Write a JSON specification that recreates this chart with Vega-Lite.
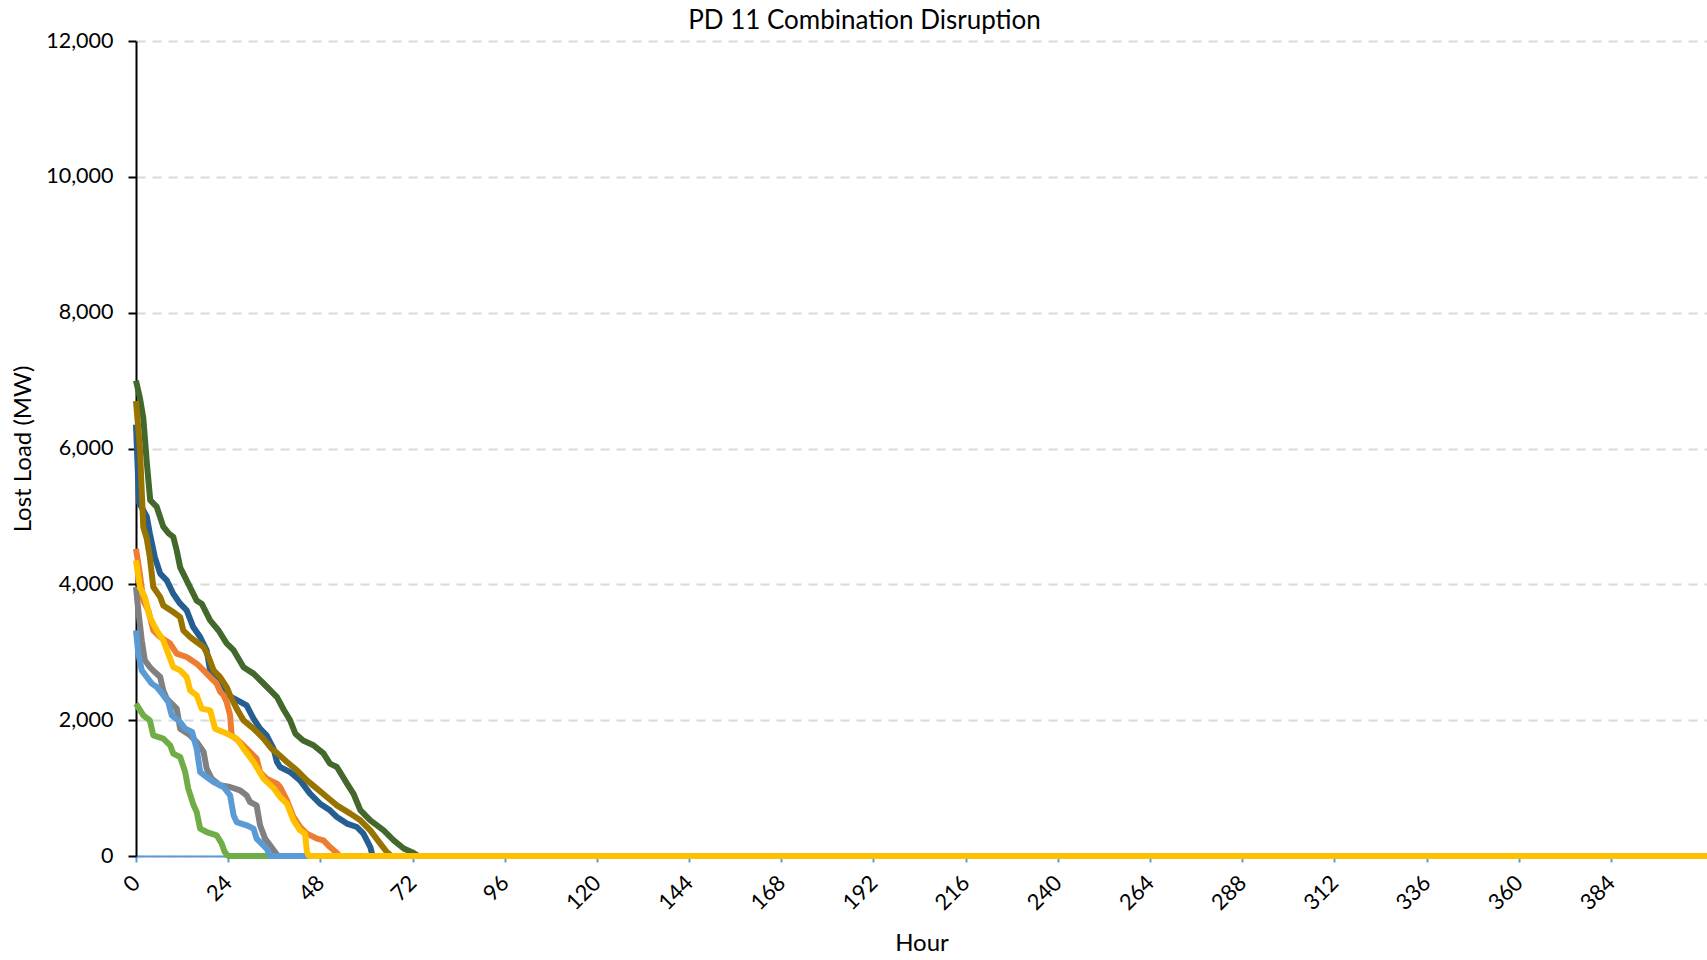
{
  "$schema": "https://vega.github.io/schema/vega-lite/v6.json",
  "autosize": {"type": "none"},
  "width": 1571,
  "height": 815,
  "padding": {"left": 136, "top": 41, "right": 0, "bottom": 104},
  "background": "white",
  "title": {"text": "PD 11 Combination Disruption", "font": "Lato", "fontSize": 26, "fontWeight": "normal", "color": "#000000", "anchor": "middle", "dx": -57, "offset": -4},
  "config": {"view": {"stroke": null}},
  "data": {"values": [
    {"s":"A","h":0,"v":7000},{"s":"A","h":1,"v":6750},{"s":"A","h":1.9,"v":6450},{"s":"A","h":2.8,"v":5800},{"s":"A","h":3.7,"v":5240},{"s":"A","h":5.4,"v":5140},{"s":"A","h":7.1,"v":4850},{"s":"A","h":8.5,"v":4750},{"s":"A","h":9.7,"v":4700},{"s":"A","h":10.6,"v":4500},{"s":"A","h":11.5,"v":4250},{"s":"A","h":13.6,"v":4010},{"s":"A","h":15.8,"v":3760},{"s":"A","h":17.1,"v":3715},{"s":"A","h":19.3,"v":3470},{"s":"A","h":21.5,"v":3320},{"s":"A","h":23.6,"v":3130},{"s":"A","h":25.4,"v":3030},{"s":"A","h":28,"v":2780},{"s":"A","h":30.6,"v":2685},{"s":"A","h":33.2,"v":2540},{"s":"A","h":36.7,"v":2340},{"s":"A","h":38.5,"v":2150},{"s":"A","h":40.1,"v":2000},{"s":"A","h":41.5,"v":1800},{"s":"A","h":43.5,"v":1700},{"s":"A","h":46.2,"v":1630},{"s":"A","h":48.8,"v":1510},{"s":"A","h":50.5,"v":1360},{"s":"A","h":52.3,"v":1310},{"s":"A","h":54.9,"v":1070},{"s":"A","h":56.6,"v":920},{"s":"A","h":58.4,"v":675},{"s":"A","h":61,"v":525},{"s":"A","h":64.4,"v":380},{"s":"A","h":67.1,"v":230},{"s":"A","h":69.7,"v":110},{"s":"A","h":72.3,"v":44},{"s":"A","h":73.5,"v":0},{"s":"A","h":409,"v":0},
    {"s":"B","h":0,"v":6350},{"s":"B","h":0.8,"v":5200},{"s":"B","h":2.8,"v":5000},{"s":"B","h":3.6,"v":4750},{"s":"B","h":4.9,"v":4400},{"s":"B","h":6.3,"v":4157},{"s":"B","h":8,"v":4058},{"s":"B","h":9.7,"v":3862},{"s":"B","h":11.5,"v":3715},{"s":"B","h":13.2,"v":3617},{"s":"B","h":14.9,"v":3371},{"s":"B","h":16.7,"v":3224},{"s":"B","h":18.4,"v":3028},{"s":"B","h":19.3,"v":2733},{"s":"B","h":21.9,"v":2611},{"s":"B","h":23.6,"v":2420},{"s":"B","h":24.5,"v":2350},{"s":"B","h":26.2,"v":2300},{"s":"B","h":28.8,"v":2218},{"s":"B","h":30.6,"v":2022},{"s":"B","h":32.3,"v":1875},{"s":"B","h":34,"v":1777},{"s":"B","h":35.8,"v":1581},{"s":"B","h":36.7,"v":1384},{"s":"B","h":37.5,"v":1310},{"s":"B","h":40.1,"v":1236},{"s":"B","h":42.7,"v":1114},{"s":"B","h":45.3,"v":918},{"s":"B","h":47.9,"v":771},{"s":"B","h":50.5,"v":673},{"s":"B","h":52.3,"v":574},{"s":"B","h":54.9,"v":477},{"s":"B","h":57.5,"v":427},{"s":"B","h":59.2,"v":330},{"s":"B","h":61,"v":132},{"s":"B","h":61.6,"v":0},{"s":"B","h":409,"v":0},
    {"s":"C","h":0,"v":6700},{"s":"C","h":1,"v":6020},{"s":"C","h":1.9,"v":4843},{"s":"C","h":2.8,"v":4672},{"s":"C","h":3.6,"v":4401},{"s":"C","h":4.5,"v":3960},{"s":"C","h":6.3,"v":3812},{"s":"C","h":7.1,"v":3690},{"s":"C","h":9.7,"v":3592},{"s":"C","h":11.5,"v":3518},{"s":"C","h":12.3,"v":3322},{"s":"C","h":14.1,"v":3224},{"s":"C","h":15.8,"v":3150},{"s":"C","h":17.6,"v":3077},{"s":"C","h":18.9,"v":2930},{"s":"C","h":20.2,"v":2733},{"s":"C","h":21.9,"v":2635},{"s":"C","h":23.6,"v":2488},{"s":"C","h":24.5,"v":2366},{"s":"C","h":26.2,"v":2170},{"s":"C","h":28,"v":1997},{"s":"C","h":30.6,"v":1875},{"s":"C","h":33.2,"v":1728},{"s":"C","h":35.3,"v":1581},{"s":"C","h":36.9,"v":1507},{"s":"C","h":39.3,"v":1384},{"s":"C","h":41.9,"v":1262},{"s":"C","h":44.5,"v":1114},{"s":"C","h":47.1,"v":992},{"s":"C","h":49.7,"v":869},{"s":"C","h":52.3,"v":746},{"s":"C","h":55.8,"v":624},{"s":"C","h":58.4,"v":525},{"s":"C","h":61,"v":378},{"s":"C","h":63.6,"v":183},{"s":"C","h":65.3,"v":59},{"s":"C","h":66.5,"v":0},{"s":"C","h":409,"v":0},
    {"s":"D","h":0,"v":3960},{"s":"D","h":0.6,"v":3617},{"s":"D","h":1.5,"v":3175},{"s":"D","h":2.3,"v":2881},{"s":"D","h":3.6,"v":2782},{"s":"D","h":4.9,"v":2709},{"s":"D","h":6.3,"v":2635},{"s":"D","h":7.1,"v":2439},{"s":"D","h":8,"v":2317},{"s":"D","h":8.9,"v":2267},{"s":"D","h":10.6,"v":2170},{"s":"D","h":11.5,"v":1875},{"s":"D","h":14.1,"v":1777},{"s":"D","h":15.8,"v":1678},{"s":"D","h":17.6,"v":1531},{"s":"D","h":18.4,"v":1286},{"s":"D","h":19.7,"v":1139},{"s":"D","h":21.9,"v":1041},{"s":"D","h":24.5,"v":1016},{"s":"D","h":27.1,"v":967},{"s":"D","h":28.8,"v":893},{"s":"D","h":29.7,"v":795},{"s":"D","h":31.4,"v":746},{"s":"D","h":32.3,"v":452},{"s":"D","h":33.6,"v":256},{"s":"D","h":34.9,"v":157},{"s":"D","h":36.2,"v":59},{"s":"D","h":37,"v":0},{"s":"D","h":409,"v":0},
    {"s":"E","h":0,"v":2243},{"s":"E","h":1.9,"v":2071},{"s":"E","h":3.6,"v":1998},{"s":"E","h":4.5,"v":1777},{"s":"E","h":7.1,"v":1728},{"s":"E","h":8.9,"v":1630},{"s":"E","h":9.7,"v":1507},{"s":"E","h":11.5,"v":1457},{"s":"E","h":12.8,"v":1236},{"s":"E","h":13.6,"v":992},{"s":"E","h":15,"v":746},{"s":"E","h":15.8,"v":648},{"s":"E","h":16.7,"v":403},{"s":"E","h":18.4,"v":353},{"s":"E","h":21,"v":305},{"s":"E","h":22.3,"v":183},{"s":"E","h":23.1,"v":59},{"s":"E","h":24,"v":0},{"s":"E","h":409,"v":0},
    {"s":"F","h":0,"v":4525},{"s":"F","h":1,"v":4157},{"s":"F","h":1.9,"v":3764},{"s":"F","h":3.2,"v":3617},{"s":"F","h":4.5,"v":3322},{"s":"F","h":6.3,"v":3224},{"s":"F","h":8.9,"v":3127},{"s":"F","h":10.6,"v":2979},{"s":"F","h":13.2,"v":2930},{"s":"F","h":15.8,"v":2832},{"s":"F","h":17.6,"v":2733},{"s":"F","h":19.3,"v":2635},{"s":"F","h":21,"v":2538},{"s":"F","h":21.9,"v":2420},{"s":"F","h":22.8,"v":2366},{"s":"F","h":23.6,"v":2267},{"s":"F","h":24.5,"v":2071},{"s":"F","h":24.9,"v":1777},{"s":"F","h":27.1,"v":1678},{"s":"F","h":29.7,"v":1531},{"s":"F","h":31.4,"v":1434},{"s":"F","h":32.3,"v":1236},{"s":"F","h":34,"v":1139},{"s":"F","h":36.7,"v":1066},{"s":"F","h":37.5,"v":1016},{"s":"F","h":39.3,"v":820},{"s":"F","h":41,"v":574},{"s":"F","h":42.7,"v":427},{"s":"F","h":44.5,"v":330},{"s":"F","h":47.1,"v":256},{"s":"F","h":48.8,"v":231},{"s":"F","h":50.5,"v":132},{"s":"F","h":52.3,"v":44},{"s":"F","h":53,"v":0},{"s":"F","h":409,"v":0},
    {"s":"G","h":0,"v":3322},{"s":"G","h":0.6,"v":2979},{"s":"G","h":1.5,"v":2733},{"s":"G","h":2.8,"v":2635},{"s":"G","h":4.1,"v":2538},{"s":"G","h":5.4,"v":2488},{"s":"G","h":6.8,"v":2390},{"s":"G","h":8.4,"v":2267},{"s":"G","h":9.3,"v":2071},{"s":"G","h":11.5,"v":1973},{"s":"G","h":12.8,"v":1875},{"s":"G","h":14.6,"v":1826},{"s":"G","h":15.8,"v":1581},{"s":"G","h":16.7,"v":1236},{"s":"G","h":18.4,"v":1163},{"s":"G","h":20.2,"v":1090},{"s":"G","h":22.8,"v":1016},{"s":"G","h":24.5,"v":893},{"s":"G","h":25.4,"v":599},{"s":"G","h":26.2,"v":500},{"s":"G","h":28.8,"v":452},{"s":"G","h":30.6,"v":403},{"s":"G","h":31.4,"v":256},{"s":"G","h":32.3,"v":206},{"s":"G","h":34,"v":109},{"s":"G","h":35,"v":0},{"s":"G","h":409,"v":0},
    {"s":"H","h":0,"v":4353},{"s":"H","h":1,"v":3960},{"s":"H","h":2.3,"v":3812},{"s":"H","h":3.6,"v":3518},{"s":"H","h":5.4,"v":3322},{"s":"H","h":7.1,"v":3175},{"s":"H","h":8.4,"v":2979},{"s":"H","h":9.7,"v":2782},{"s":"H","h":11.5,"v":2733},{"s":"H","h":13.2,"v":2635},{"s":"H","h":14.1,"v":2439},{"s":"H","h":15.8,"v":2366},{"s":"H","h":17.1,"v":2170},{"s":"H","h":19.3,"v":2145},{"s":"H","h":20.6,"v":1875},{"s":"H","h":23.6,"v":1802},{"s":"H","h":26.2,"v":1728},{"s":"H","h":28,"v":1581},{"s":"H","h":30.6,"v":1384},{"s":"H","h":33.2,"v":1139},{"s":"H","h":35.8,"v":1000},{"s":"H","h":37.5,"v":869},{"s":"H","h":39.3,"v":771},{"s":"H","h":41,"v":525},{"s":"H","h":42.7,"v":378},{"s":"H","h":44,"v":330},{"s":"H","h":44.5,"v":59},{"s":"H","h":45,"v":0},{"s":"H","h":409,"v":0}
  ]},
  "encoding": {
    "x": {"field": "h", "type": "quantitative", "scale": {"domain": [0, 409], "nice": false, "zero": false},
      "axis": {"title": "Hour", "values": [0,24,48,72,96,120,144,168,192,216,240,264,288,312,336,360,384],
        "labelAngle": -45, "labelAlign": "right", "labelBaseline": "middle", "labelPadding": 17, "labelFont": "Lato", "labelFontSize": 22, "labelColor": "#000000",
        "grid": false, "domainColor": "#5B9BD5", "domainWidth": 2, "tickColor": "#5B9BD5", "tickWidth": 2, "tickSize": 6,
        "titleFont": "Lato", "titleFontSize": 24, "titleFontWeight": "normal", "titleColor": "#000000", "titlePadding": 18, "labelFlush": false, "labelOverlap": false}},
    "y": {"field": "v", "type": "quantitative", "scale": {"domain": [0, 12000], "nice": false},
      "axis": {"title": "Lost Load (MW)", "values": [0,2000,4000,6000,8000,10000,12000], "format": ",d",
        "labelFont": "Lato", "labelFontSize": 21.5, "labelColor": "#000000", "labelPadding": 15,
        "grid": true, "gridColor": "#d9d9d9", "gridDash": [9, 7], "gridWidth": 2,
        "domainColor": "#000000", "domainWidth": 2, "tickColor": "#000000", "tickWidth": 2, "tickSize": 8,
        "titleFont": "Lato", "titleFontSize": 24, "titleFontWeight": "normal", "titleColor": "#000000", "titlePadding": 10}},
    "color": {"field": "s", "type": "nominal", "legend": null,
      "scale": {"domain": ["A","B","C","D","E","F","G","H"], "range": ["#43682B","#255E91","#997300","#808080","#70AD47","#ED7D31","#5B9BD5","#FFC000"]}}
  },
  "layer": [
    {"transform": [{"filter": "datum.s === 'A'"}], "mark": {"type": "line", "strokeWidth": 6, "strokeJoin": "round", "clip": false}},
    {"transform": [{"filter": "datum.s === 'B'"}], "mark": {"type": "line", "strokeWidth": 6, "strokeJoin": "round", "clip": false}},
    {"transform": [{"filter": "datum.s === 'C'"}], "mark": {"type": "line", "strokeWidth": 6, "strokeJoin": "round", "clip": false}},
    {"transform": [{"filter": "datum.s === 'D'"}], "mark": {"type": "line", "strokeWidth": 6, "strokeJoin": "round", "clip": false}},
    {"transform": [{"filter": "datum.s === 'E'"}], "mark": {"type": "line", "strokeWidth": 6, "strokeJoin": "round", "clip": false}},
    {"transform": [{"filter": "datum.s === 'F'"}], "mark": {"type": "line", "strokeWidth": 6, "strokeJoin": "round", "clip": false}},
    {"transform": [{"filter": "datum.s === 'G'"}], "mark": {"type": "line", "strokeWidth": 6, "strokeJoin": "round", "clip": false}},
    {"transform": [{"filter": "datum.s === 'H'"}], "mark": {"type": "line", "strokeWidth": 6, "strokeJoin": "round", "clip": false}}
  ]
}
